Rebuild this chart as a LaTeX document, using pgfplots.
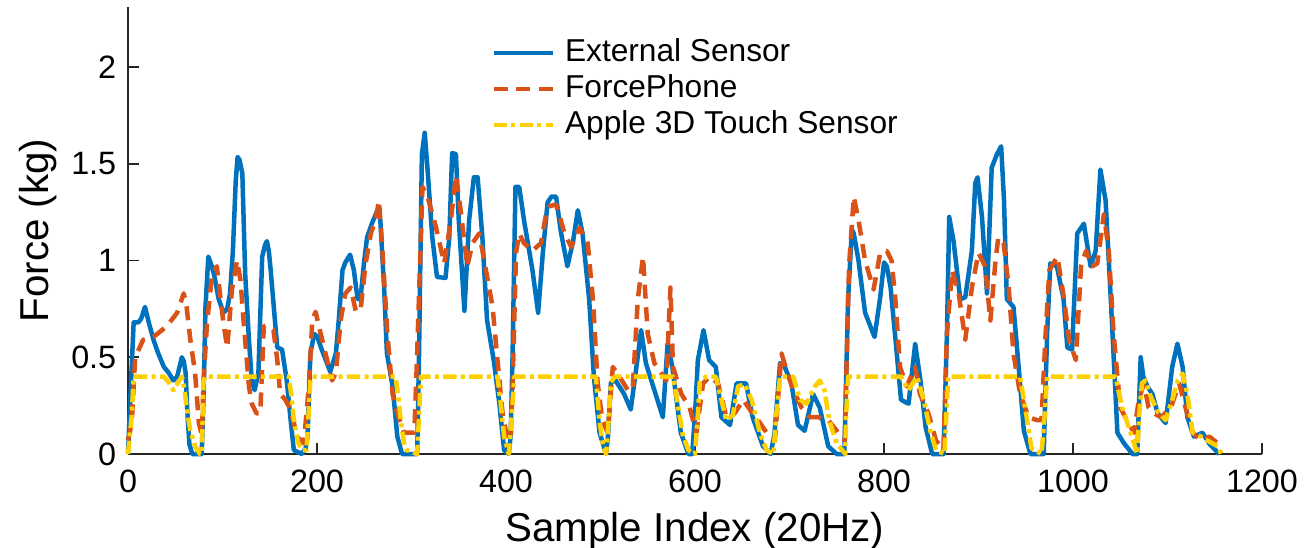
\documentclass[border=0pt]{standalone}
\usepackage{fontspec}
\setmainfont{Liberation Sans}
\usepackage{pgfplots}
\pgfplotsset{compat=1.18}
\definecolor{mblue}{HTML}{0072BD}
\definecolor{morange}{HTML}{D95319}
\definecolor{myellow}{RGB}{255,208,0}
\definecolor{axgray}{RGB}{38,38,38}
\begin{document}
\begin{tikzpicture}
\begin{axis}[
  scale only axis,
  width=340.2pt, height=134.1pt,
  xmin=0, xmax=1200, ymin=0, ymax=2.31,
  axis x line*=bottom, axis y line*=left,
  axis line style={axgray, line width=0.5pt, -},
  tick align=inside,
  major tick length=3.3pt,
  tick style={axgray, line width=0.5pt},
  xtick={0,200,400,600,800,1000,1200},
  ytick={0,0.5,1,1.5,2},
  /pgf/number format/assume math mode=true,
  /pgf/number format/1000 sep={},
  ticklabel style={font=\fontsize{9.7}{11}\selectfont, text=black},
  xticklabel style={yshift=-1.2pt},
  xlabel={Sample Index (20Hz)},
  ylabel={Force (kg)},
  label style={font=\fontsize{12.1}{14}\selectfont},
  ylabel style={yshift=-2.6pt},
  xlabel style={yshift=1pt},
  legend style={draw=none, fill=none, at={(axis cs:384,2.154)}, anchor=north west,
    inner sep=0pt, row sep=1.8pt, column sep=3pt,
    nodes={inner sep=0pt, text height=7pt, text depth=2pt, font=\fontsize{9.5}{11}\selectfont}},
  legend cell align=left,
  legend image code/.code={\draw[#1] (0pt,0pt) -- (17.7pt,0pt);},
  every axis plot/.append style={line width=1.35pt, line join=round},
  clip=false,
]
\addplot[mblue] coordinates {
(0,0) (3,0.35) (6,0.68) (11,0.68) (14,0.70) (18,0.76) (22,0.68) (27,0.59) (32,0.52) (38,0.45) (43,0.42) (48,0.38) (52,0.40) (57,0.50) (59,0.48) (61,0.42) (63,0.2) (65,0.05) (68,0) (78,0) (80,0.3) (82,0.76) (85,1.02) (88,0.98) (91,0.93) (96,0.80) (101,0.73) (105,0.75) (108,0.83) (111,1.05) (114,1.41) (116,1.535) (118,1.52) (121,1.45) (124,0.93) (128,0.59) (131,0.38) (134,0.33) (138,0.42) (142,1.02) (145,1.08) (147,1.10) (149,1.05) (151,0.95) (156,0.66) (158,0.55) (163,0.54) (168,0.38) (172,0.18) (175.5,0.02) (184,0) (188,0.03) (190,0.09) (193,0.52) (197,0.62) (200,0.61) (205,0.54) (209,0.49) (214,0.425) (220,0.52) (223,0.69) (227,0.95) (230,0.99) (235,1.03) (239,0.95) (243,0.80) (246,0.80) (250,1.00) (253,1.12) (258,1.19) (264,1.26) (267,1.21) (271,0.86) (274,0.52) (280,0.35) (285,0.09) (290,0) (306,0) (308,0.52) (311,1.55) (314,1.66) (317,1.47) (322,1.12) (327,0.915) (336,0.91) (340,1.12) (343,1.555) (347,1.55) (350,1.21) (356,0.74) (361,1.21) (366,1.43) (370,1.43) (375,1.12) (380,0.69) (387,0.485) (393,0.26) (398,0.02) (403,0) (405,0.1) (407,0.52) (410,1.38) (414,1.38) (419,1.21) (428,0.95) (434,0.73) (439,1.04) (444,1.30) (448,1.33) (453,1.33) (458,1.15) (465,0.97) (471,1.10) (476,1.26) (481,1.14) (488,0.80) (493,0.40) (499,0.11) (506,0) (508,0.1) (511,0.37) (516,0.38) (525,0.31) (532,0.23) (538,0.45) (543,0.64) (548,0.47) (557,0.33) (566,0.19) (571,0.57) (576,0.45) (585,0.11) (593,0) (597,0) (600,0.2) (603,0.485) (609,0.64) (615,0.485) (622,0.45) (628,0.19) (637,0.15) (644,0.365) (654,0.365) (661,0.19) (672,0.04) (680,0) (684,0.1) (690,0.47) (695,0.45) (702,0.365) (709,0.15) (716,0.12) (725,0.31) (732,0.24) (741,0.04) (750,0) (758,0) (762,0.80) (766,1.16) (768,1.14) (773,1.00) (780,0.73) (790,0.605) (796,0.81) (800,0.99) (803,0.97) (807,0.86) (812,0.6) (818,0.28) (826,0.26) (833,0.57) (839,0.365) (844,0.14) (851,0) (863,0) (866.6,0.62) (869,1.225) (873.6,1.10) (880.7,0.80) (886,0.81) (893,1.05) (896.6,1.40) (899,1.43) (903.7,1.225) (909,0.83) (914,1.48) (919.6,1.55) (924,1.59) (927,1.31) (930,0.80) (937,0.76) (942.5,0.45) (948,0.12) (955,0) (969,0) (972.6,0.62) (976,0.985) (983,0.97) (990,0.80) (994,0.55) (999,0.54) (1004.5,1.14) (1011.5,1.19) (1018.6,0.97) (1024,1.05) (1029,1.47) (1034.5,1.31) (1040,0.80) (1047,0.11) (1054,0.055) (1063,0) (1068,0) (1071.6,0.50) (1074.4,0.40) (1078.6,0.35) (1084,0.31) (1089.6,0.21) (1098,0.16) (1105,0.45) (1110.5,0.57) (1116,0.45) (1121,0.19) (1128,0.09) (1137,0.11) (1144,0.055) (1154.6,0)
};
\addlegendentry{External Sensor}
\addplot[morange, dash pattern=on 4.2pt off 2.6pt] coordinates {
(0,0.07) (4,0.16) (7.6,0.50) (16,0.59) (27,0.605) (41,0.66) (52,0.73) (59,0.83) (62,0.76) (66,0.59) (71,0.42) (75,0.16) (78,0.1) (80,0.38) (83.6,0.675) (89,0.93) (94,0.97) (101,0.675) (105,0.55) (110,0.85) (115.4,1.00) (119,0.90) (122.5,0.675) (128,0.35) (131,0.26) (136,0.21) (140,0.21) (143.7,0.66) (148,0.665) (154,0.64) (158,0.485) (161,0.31) (166.6,0.28) (172,0.23) (179,0.09) (186,0.055) (191.4,0.35) (195,0.69) (198.5,0.735) (204,0.62) (209,0.52) (216,0.38) (220,0.42) (225,0.69) (230,0.83) (235.6,0.86) (241,0.74) (246,0.74) (251.5,0.985) (257,1.14) (262,1.21) (265.6,1.31) (269,1.07) (274.5,0.62) (280,0.31) (285,0.21) (292,0.11) (303,0.11) (306,0.52) (311.6,1.38) (317,1.33) (326,1.17) (334.6,0.985) (341.7,1.21) (347,1.44) (352,1.26) (359,0.97) (364.6,1.09) (371.7,1.14) (378.8,0.95) (385.8,0.76) (391,0.485) (396.4,0.21) (401.7,0.07) (405,0.1) (407,0.35) (410.6,1.04) (414,1.14) (419,1.09) (428,1.05) (437,1.09) (442.4,1.24) (446,1.28) (453,1.29) (462,1.14) (469,1.07) (477.7,1.17) (486.5,1.09) (492,0.80) (497,0.365) (502,0.175) (507.7,0.11) (513,0.45) (520,0.40) (529,0.33) (534,0.33) (539.5,0.80) (545,1.02) (550,0.62) (557,0.47) (564,0.42) (569.7,0.38) (574,0.86) (576.7,0.45) (585.6,0.31) (594.4,0.24) (601.5,0.11) (608.5,0.365) (615.6,0.40) (624.4,0.365) (633.3,0.19) (642,0.21) (651,0.28) (658,0.23) (666.8,0.175) (675.7,0.11) (684.5,0.07) (691.6,0.52) (697,0.43) (704,0.33) (712.8,0.24) (721.6,0.19) (730.4,0.19) (741,0.175) (750,0.12) (758.5,0.07) (763,0.97) (768,1.33) (773,1.21) (780,1.00) (789,0.85) (796,1.04) (803,1.05) (808,1.0) (812,0.80) (817,0.45) (824,0.35) (833,0.45) (838,0.31) (847,0.21) (855,0.07) (863,0.02) (866.6,0.62) (872,0.95) (879,0.83) (886,0.59) (893,0.86) (900,1.04) (907,0.97) (912.6,0.69) (918,1.00) (921,1.12) (926.6,1.09) (932,0.86) (937,0.52) (944,0.31) (953,0.19) (962,0.175) (966.7,0.175) (971,0.62) (975,0.95) (983.5,1.02) (990.6,0.80) (995.9,0.59) (1003,0.485) (1008.5,0.97) (1013.8,1.05) (1020.4,0.97) (1025.7,0.985) (1032.7,1.24) (1038,1.04) (1043,0.62) (1050,0.24) (1057,0.175) (1064.5,0.11) (1069.7,0.28) (1075,0.365) (1080,0.24) (1086,0.21) (1093,0.19) (1103.6,0.24) (1112.4,0.365) (1119.6,0.23) (1126.7,0.11) (1135.6,0.07) (1144.4,0.09) (1153.3,0.055)
};
\addlegendentry{ForcePhone}
\addplot[myellow, dash pattern=on 4pt off 1.3pt on 1.2pt off 1.3pt] coordinates {
(0,0) (4,0.2) (6,0.40) (38,0.40) (43,0.37) (48,0.33) (53,0.37) (57,0.40) (60,0.33) (62,0.24) (66,0.12) (71,0.04) (76,0) (78,0) (80,0.38) (82,0.40) (170,0.40) (173,0.3) (175.5,0.175) (180,0.06) (184,0.02) (189,0.02) (191,0.2) (193,0.38) (195,0.40) (283,0.40) (286,0.3) (288.6,0.175) (292,0.06) (295,0.02) (306,0) (308,0.2) (310,0.40) (391,0.40) (394,0.28) (398,0.09) (403,0) (406,0.2) (409,0.40) (495,0.40) (499,0.17) (503,0.03) (506,0) (509,0.2) (511,0.37) (515,0.40) (577,0.40) (582,0.25) (587,0.1) (593,0.02) (600,0) (603,0.2) (605,0.37) (612,0.40) (622,0.40) (628,0.28) (633,0.175) (640,0.2) (645.6,0.35) (652.6,0.36) (660,0.28) (668.6,0.11) (675.7,0.02) (683,0) (686,0.2) (690,0.40) (704,0.40) (711,0.28) (718,0.26) (727,0.35) (732,0.38) (737,0.33) (742,0.175) (750,0.055) (759,0) (760,0.2) (762,0.40) (818,0.40) (826,0.33) (835,0.40) (842,0.28) (849,0.12) (855,0.02) (864,0) (866,0.2) (868,0.40) (944,0.40) (951,0.19) (956,0.03) (966.7,0) (970,0.2) (972.6,0.40) (1045,0.40) (1052,0.24) (1061,0.11) (1068,0) (1070,0.2) (1073,0.365) (1076.6,0.38) (1082,0.30) (1089.6,0.22) (1098,0.175) (1105,0.28) (1111,0.38) (1116,0.415) (1121,0.31) (1126.7,0.11) (1135.6,0.09) (1142,0.07) (1153,0.04) (1157,0)
};
\addlegendentry{Apple 3D Touch Sensor}
\end{axis}
\pgfresetboundingbox
\path[use as bounding box] (-38.4pt,-27.9pt) rectangle (353.1pt,136.2pt);
\end{tikzpicture}
\end{document}
